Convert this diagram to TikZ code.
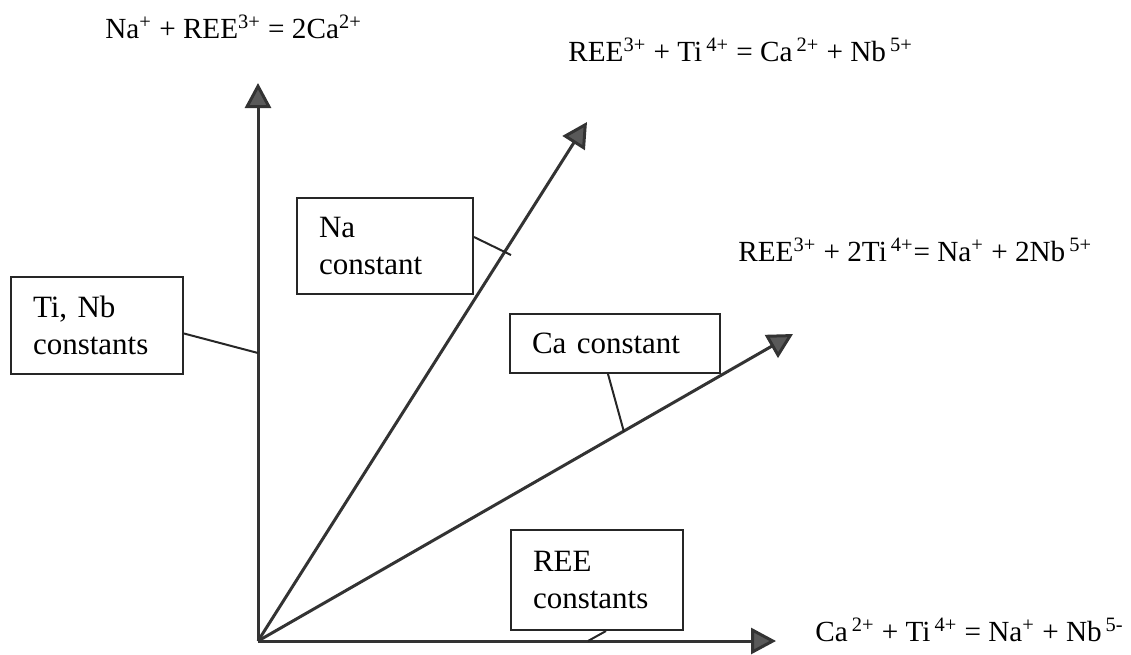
\documentclass[tikz,border=0pt]{standalone}
\usepackage{fontspec}
\setmainfont{Liberation Serif}
\usetikzlibrary{positioning,arrows.meta,calc}
\newcommand{\supgap}{\hspace{2pt}}
\tikzset{
  cbox/.style={rectangle,draw=black!85,line width=1pt,anchor=north west,align=left,
    inner xsep=11pt,inner ysep=0pt,font=\fontsize{15.5}{18.5}\selectfont},
  eqn/.style={anchor=west,inner sep=0pt,font=\fontsize{14.6}{17.5}\selectfont},
  vec/.style={-{Triangle[length=12.5pt,width=13pt,fill=black!65]},draw=black!80,line width=1.5pt},
  lead/.style={draw=black!85,line width=1pt},
}
\begin{document}
\begin{tikzpicture}[x=0.5pt,y=-0.5pt]
  \useasboundingbox (0,0) rectangle (1131,654);
  % axes and vectors
  \coordinate (orig) at (258,641);
  \coordinate (ytip) at (258,83);
  \coordinate (xtip) at (776,641);
  \coordinate (natip) at (587,122);
  \coordinate (catip) at (793,334);
  \draw[vec] (orig) -- (ytip);
  \draw[vec] (orig) -- (xtip);
  \draw[vec] (orig) -- (natip);
  \draw[vec] (orig) -- (catip);
  % substitution equations
  \node[eqn] (eqy) at (105,27) {Na\textsuperscript{+} + REE\textsuperscript{3+} = 2Ca\textsuperscript{2+}};
  \node[eqn] (eqna) at (568,50) {REE\textsuperscript{3+} + Ti\supgap\textsuperscript{4+} = Ca\supgap\textsuperscript{2+} + Nb\supgap\textsuperscript{5+}};
  \node[eqn] (eqca) at (738,250) {REE\textsuperscript{3+} + 2Ti\supgap\textsuperscript{4+}= Na\textsuperscript{+} + 2Nb\supgap\textsuperscript{5+}};
  \node[eqn] (eqx) at (815,630) {Ca\supgap\textsuperscript{2+} + Ti\supgap\textsuperscript{4+} = Na\textsuperscript{+} + Nb\supgap\textsuperscript{5-}};
  % labels
  \node[cbox,text width=64pt,minimum height=48.5pt] (tinb) at (10,276) {Ti, Nb\\constants};
  \node[cbox,text width=66pt,minimum height=48pt] (nac) at (296,197) {Na\\constant};
  \node[cbox,text width=83pt,minimum height=29.5pt] (cac) at (509,313) {Ca constant};
  \node[cbox,text width=64pt,minimum height=50pt] (reec) at (510,529) {REE\\constants};
  % leaders
  \coordinate (tiend) at (258,353);
  \coordinate (naend) at (511,255);
  \coordinate (caend) at (624,432);
  \coordinate (reeend) at (588,641);
  \draw[lead] ([yshift=-4pt]tinb.east) -- (tiend);
  \draw[lead] ([yshift=4.5pt]nac.east) -- (naend);
  \draw[lead] ([xshift=-3.5pt]cac.south) -- (caend);
  \draw[lead] ([xshift=4.5pt]reec.south) -- (reeend);
\end{tikzpicture}
\end{document}
